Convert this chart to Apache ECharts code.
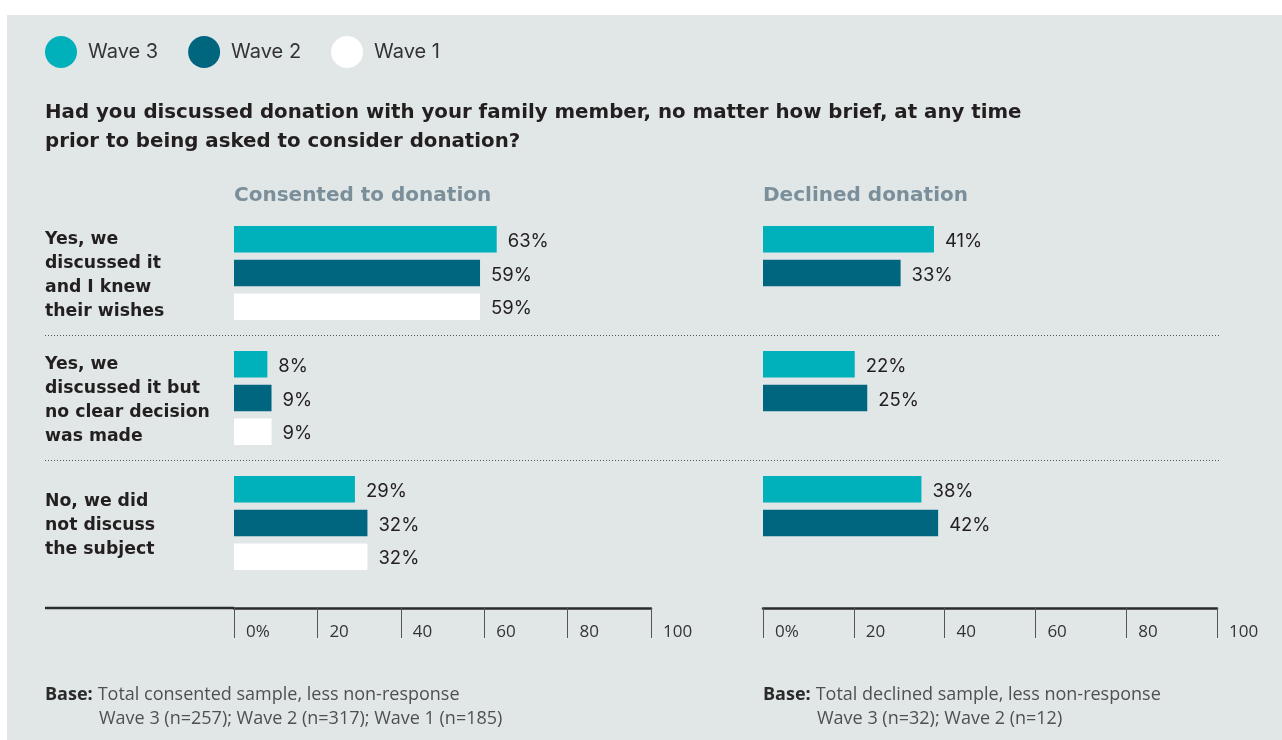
<!DOCTYPE html>
<html>
<head>
<meta charset="utf-8">
<script src="https://cdn.jsdelivr.net/npm/echarts@6/dist/echarts.min.js"></script>
<style>
  html, body { margin: 0; padding: 0; background: #ffffff; }
  #chart { width: 1282px; height: 740px; }
</style>
</head>
<body>
<div id="chart"></div>
<script>
// Answer groups (rows) and the percentage per wave
const categories = [
  'Yes, we\ndiscussed it\nand I knew\ntheir wishes',
  'Yes, we\ndiscussed it but\nno clear decision\nwas made',
  'No, we did\nnot discuss\nthe subject'
];
const waveNames = ['Wave 3', 'Wave 2', 'Wave 1'];

// Consented to donation
const consentedWave3 = [63, 8, 29];
const consentedWave2 = [59, 9, 32];
const consentedWave1 = [59, 9, 32];

// Declined donation (no Wave 1 sample)
const declinedWave3 = [41, 22, 38];
const declinedWave2 = [33, 25, 42];
const declinedWave1 = [null, null, null];

const axisTicks = [0, 20, 40, 60, 80, 100];

const questionText = 'Had you discussed donation with your family member, no matter how brief, at any time\nprior to being asked to consider donation?';
const panelTitles = ['Consented to donation', 'Declined donation'];
const baseNotes = [
  ['Total consented sample, less non-response', 'Wave 3 (n=257); Wave 2 (n=317); Wave 1 (n=185)'],
  ['Total declined sample, less non-response', 'Wave 3 (n=32); Wave 2 (n=12)']
];

const colors = { 'Wave 3': '#00b0bb', 'Wave 2': '#00657f', 'Wave 1': '#ffffff' };
const SANS = 'Inter, "Noto Sans", sans-serif';
const BOLD = '"DejaVu Sans", Inter, sans-serif';
const NOTE = '"Open Sans", "Noto Sans", sans-serif';
const INK = '#231f20';

const chart = echarts.init(document.getElementById('chart'), null, { renderer: 'canvas' });

function barSeries(name, data, idx) {
  return {
    type: 'bar',
    name: name,
    data: data,
    xAxisIndex: idx,
    yAxisIndex: idx,
    barWidth: 26.6,
    barGap: '27%',
    itemStyle: { color: colors[name] },
    label: {
      show: true,
      position: 'right',
      distance: 11,
      formatter: p => p.value == null ? '' : '{v|' + p.value + '%}',
      rich: { v: { color: INK, fontFamily: SANS, fontSize: 18.5, padding: [4, 0, 0, 0] } }
    },
    animation: false
  };
}

function tickAxis(gridIndex) {
  return {
    gridIndex: gridIndex,
    type: 'value',
    min: 0,
    max: 100,
    interval: 20,
    position: 'top',
    axisLine: { show: true, onZero: false, lineStyle: { color: '#2b2b2b', width: 2.5 } },
    axisTick: { show: true, inside: true, length: 30, lineStyle: { color: '#555555', width: 1 } },
    axisLabel: {
      show: true,
      inside: true,
      align: 'left',
      verticalAlign: 'middle',
      margin: 24,
      padding: [0, 0, 0, 12],
      showMinLabel: true,
      showMaxLabel: true,
      formatter: v => (v === axisTicks[0] ? v + '%' : String(v)),
      color: '#333333',
      fontFamily: NOTE,
      fontSize: 17
    },
    splitLine: { show: false }
  };
}

// Row labels: a thin spacer line on top nudges each block slightly down
function rowLabel(text) {
  return '{s|}\n' + text.split('\n').map(l => '{t|' + l + '}').join('\n');
}

function noteText(lines) {
  return '{b|Base:} {r|' + lines[0] + '}\n{i|' + lines[1] + '}';
}
const noteRich = {
  b: { fontFamily: NOTE, fontWeight: 'bold', fontSize: 18, color: '#2a2a2a', lineHeight: 24 },
  r: { fontFamily: NOTE, fontWeight: 'normal', fontSize: 18, color: '#505050', lineHeight: 24 },
  i: { fontFamily: NOTE, fontWeight: 'normal', fontSize: 18, color: '#505050', lineHeight: 24, padding: [0, 0, 0, 54] }
};

const option = {
  backgroundColor: '#ffffff',
  animation: false,
  graphic: [
    { type: 'rect', z: -10, silent: true, shape: { x: 7, y: 15, width: 1275, height: 725 }, style: { fill: '#e1e7e7' } },
    { type: 'line', z: 5, silent: true, shape: { x1: 45, y1: 608, x2: 234, y2: 608 }, style: { stroke: '#2b2b2b', lineWidth: 2.5 } }
  ],
  legend: {
    data: waveNames,
    left: 45,
    top: 36,
    padding: 0,
    icon: 'circle',
    itemWidth: 32,
    itemHeight: 32,
    itemGap: 30,
    selectedMode: false,
    textStyle: { fontFamily: SANS, fontSize: 20, color: '#333333', padding: [0, 0, 0, 6] }
  },
  title: [
    { text: questionText, left: 45, top: 98, padding: 0,
      textStyle: { fontFamily: BOLD, fontWeight: 'bold', fontSize: 19.8, lineHeight: 29, color: INK } },
    { text: panelTitles[0], left: 234, top: 186, padding: 0,
      textStyle: { fontFamily: BOLD, fontWeight: 'bold', fontSize: 20, color: '#7b8f9a' } },
    { text: panelTitles[1], left: 763, top: 186, padding: 0,
      textStyle: { fontFamily: BOLD, fontWeight: 'bold', fontSize: 20, color: '#7b8f9a' } },
    { text: noteText(baseNotes[0]), left: 45, top: 683, padding: 0, textStyle: { rich: noteRich } },
    { text: noteText(baseNotes[1]), left: 763, top: 683, padding: 0, textStyle: { rich: noteRich } }
  ],
  grid: [
    { left: 234, top: 210.5, width: 417, height: 375 },
    { left: 763, top: 210.5, width: 417, height: 375 },
    { left: 234, top: 608, width: 417, height: 30 },
    { left: 763, top: 608, width: 454, height: 30 },
    { left: 45, top: 335.5, width: 1174, height: 125 }
  ],
  xAxis: [
    { gridIndex: 0, type: 'value', min: 0, max: 100, show: false },
    { gridIndex: 1, type: 'value', min: 0, max: 100, show: false },
    tickAxis(2),
    tickAxis(3),
    { gridIndex: 4, type: 'value', min: 0, max: 1, show: false }
  ],
  yAxis: [
    {
      gridIndex: 0, type: 'category', data: categories, inverse: true,
      axisLine: { show: false }, axisTick: { show: false }, splitLine: { show: false },
      axisLabel: {
        align: 'left', margin: 189,
        formatter: rowLabel,
        rich: {
          s: { lineHeight: 6, fontSize: 4 },
          t: { fontFamily: BOLD, fontWeight: 'bold', fontSize: 17.3, lineHeight: 24, color: INK }
        }
      }
    },
    {
      gridIndex: 1, type: 'category', data: categories, inverse: true,
      axisLine: { show: false }, axisTick: { show: false }, axisLabel: { show: false }, splitLine: { show: false }
    },
    { gridIndex: 2, type: 'value', min: 0, max: 1, show: false },
    { gridIndex: 3, type: 'value', min: 0, max: 1, show: false },
    {
      // dotted separators between the answer groups
      gridIndex: 4, type: 'value', min: 0, max: 1, interval: 1,
      axisLine: { show: false }, axisTick: { show: false }, axisLabel: { show: false },
      splitLine: { show: true, lineStyle: { color: '#555555', width: 1, type: [1, 2] } }
    }
  ],
  series: [
    barSeries('Wave 3', consentedWave3, 0),
    barSeries('Wave 2', consentedWave2, 0),
    barSeries('Wave 1', consentedWave1, 0),
    barSeries('Wave 3', declinedWave3, 1),
    barSeries('Wave 2', declinedWave2, 1),
    barSeries('Wave 1', declinedWave1, 1)
  ]
};

chart.setOption(option);
</script>
</body>
</html>
